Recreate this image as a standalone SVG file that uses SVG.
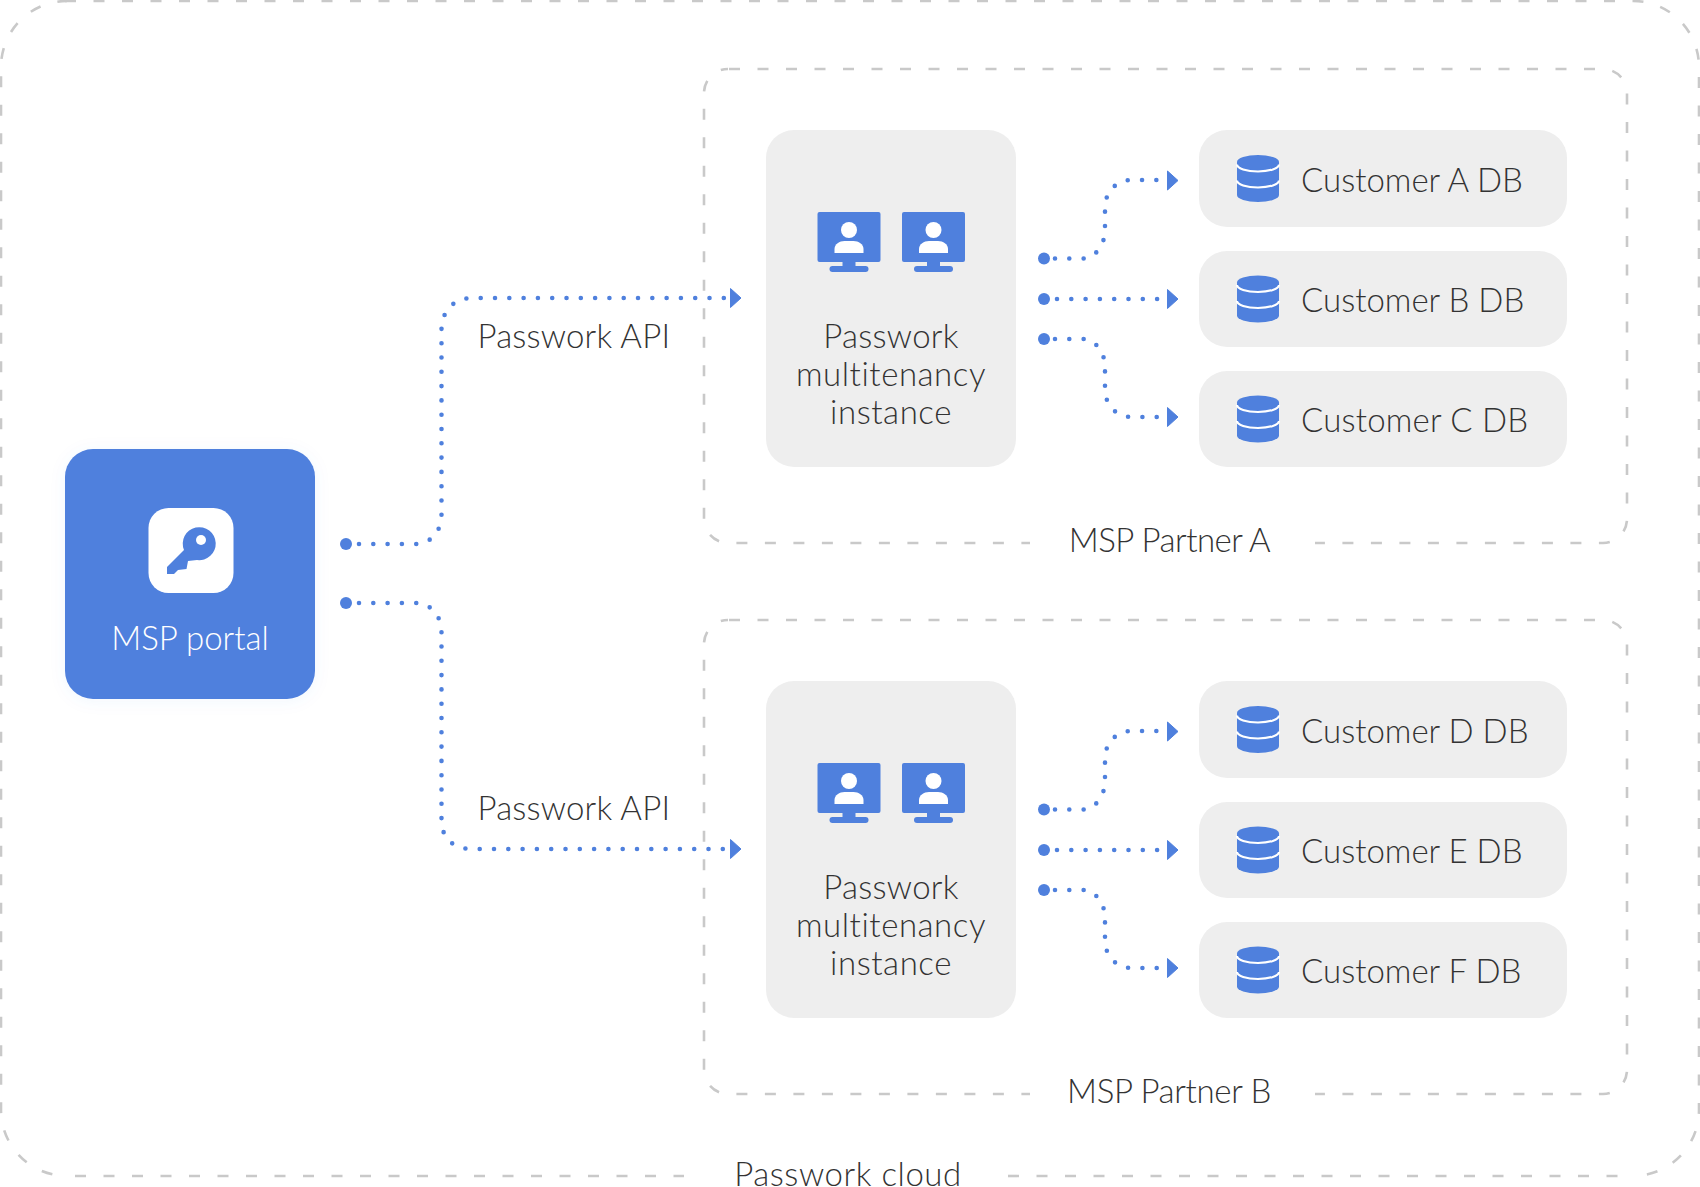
<svg xmlns="http://www.w3.org/2000/svg" xmlns:xlink="http://www.w3.org/1999/xlink" width="1700" height="1187" viewBox="0 0 1700 1187">
<style>
text{font-family:"Lato","Liberation Sans",sans-serif;font-weight:300;font-size:33px;fill:#333333}
.m{text-anchor:middle}
.box{fill:#eeeeee}
.dash{fill:none;stroke:#c9c9c9;stroke-width:2.6;stroke-dasharray:11 17.5}
.dot{fill:none;stroke:#4f80dd;stroke-width:4.6;stroke-linecap:round;stroke-dasharray:0 14.3;stroke-dashoffset:1.3}
.b{fill:#4f80dd}
.arrow{fill:#4f80dd;stroke:#4f80dd;stroke-linejoin:round}
</style>
<defs>
<filter id="sh" x="-20%" y="-20%" width="140%" height="140%"><feDropShadow dx="0" dy="2" stdDeviation="8" flood-color="#4f80dd" flood-opacity="0.06"/></filter>
<g id="monitor">
<rect x="0" y="0" width="63" height="50" rx="2" class="b"/>
<rect x="25" y="50" width="13" height="5" class="b"/>
<rect x="12" y="54" width="39" height="6" rx="3" class="b"/>
<circle cx="31.500" cy="18" r="8" fill="#fff"/>
<path d="M17 41V37C17 32 22 29 27 29H36C41 29 46 32 46 37V41Z" fill="#fff"/>
</g>
<g id="db">
<path d="M0 7A21 7 0 0 1 42 7V40A21 7 0 0 1 0 40Z" class="b"/>
<path d="M0 9.500A21 7 0 0 0 42 9.500M0 25.500A21 7 0 0 0 42 25.500" fill="none" stroke="#fff" stroke-width="2.200"/>
</g>
<g id="inst">
<rect x="766" y="130" width="250" height="337" rx="28" class="box"/>
<use xlink:href="#monitor" x="817.500" y="212"/>
<use xlink:href="#monitor" x="902" y="212"/>
<text class="m" x="891" y="348" letter-spacing="0.27">Passwork</text>
<text class="m" x="891" y="386" letter-spacing="0.55">multitenancy</text>
<text class="m" x="891" y="424" letter-spacing="0.55">instance</text>
</g>
<g id="links">
<path class="dot" style="stroke-dashoffset:3.300" d="M1044 258.500H1082C1096 258.500 1105 244 1105 230V208C1105 192 1116 180 1132 180H1162"/>
<path class="dot" d="M1044 299H1162"/>
<path class="dot" style="stroke-dashoffset:3.300" d="M1044 339H1082C1096 339 1105 353 1105 367V389C1105 405 1116 417 1132 417H1162"/>
<circle cx="1044" cy="258.500" r="6" class="b"/><circle cx="1044" cy="299" r="6" class="b"/><circle cx="1044" cy="339" r="6" class="b"/>
<path d="M1167.500 171L1178 180.500L1167.500 190Z" class="arrow"/>
<path d="M1167.500 289.500L1178 299L1167.500 308.500Z" class="arrow"/>
<path d="M1167.500 407.500L1178 417L1167.500 426.500Z" class="arrow"/>
</g>
</defs>

<g id="cloud">
<path class="dash" d="M65 1H1633A66 66 0 0 1 1699 67V1110A66 66 0 0 1 1633 1176"/>
<path class="dash" d="M1008 1176H1625"/>
<path class="dash" style="stroke-dashoffset:1.300" d="M67 1A66 66 0 0 0 1 67V1110A66 66 0 0 0 67 1176"/>
<path class="dash" d="M75 1176H684"/>
<text class="m" x="848" y="1185.500" letter-spacing="0.55">Passwork cloud</text>
</g>
<g id="partner-a">
<path class="dash" d="M729 69H1603A24 24 0 0 1 1627 93V519A24 24 0 0 1 1603 543H1315"/>
<path class="dash" style="stroke-dashoffset:3.700" d="M728 69A24 24 0 0 0 704 93V519A24 24 0 0 0 728 543H1030"/>
<text class="m" x="1169.500" y="552" letter-spacing="-0.5">MSP Partner A</text>
</g>
<g id="partner-b">
<path class="dash" d="M729 620H1603A24 24 0 0 1 1627 644V1070A24 24 0 0 1 1603 1094H1315"/>
<path class="dash" style="stroke-dashoffset:3.700" d="M728 620A24 24 0 0 0 704 644V1070A24 24 0 0 0 728 1094H1030"/>
<text class="m" x="1169" y="1103" letter-spacing="-0.35">MSP Partner B</text>
</g>

<g id="msp-portal">
<rect x="65" y="449" width="250" height="250" rx="28" class="b" filter="url(#sh)"/>
<rect x="148.500" y="508" width="85" height="85" rx="20" fill="#fff"/>
<path d="M167 567L184 550A16.500 16.500 0 1 1 197 560L188 561L186.500 569L178 570L174 574H167Z" class="b"/>
<circle cx="201" cy="540" r="5" fill="#fff"/>
<text class="m" x="190" y="650" style="fill:#fff">MSP portal</text>
</g>

<g id="instance-a"><use xlink:href="#inst"/></g>
<g id="instance-b"><use xlink:href="#inst" y="551"/></g>

<g id="customer-a"><rect x="1199" y="130" width="368" height="97" rx="28" class="box"/><use xlink:href="#db" x="1237" y="155"/><text x="1301" y="192">Customer A DB</text></g>
<g id="customer-b"><rect x="1199" y="251" width="368" height="96" rx="28" class="box"/><use xlink:href="#db" x="1237" y="275.500"/><text x="1301" y="312">Customer B DB</text></g>
<g id="customer-c"><rect x="1199" y="371" width="368" height="96" rx="28" class="box"/><use xlink:href="#db" x="1237" y="395.500"/><text x="1301" y="432" letter-spacing="0.2">Customer C DB</text></g>
<g id="customer-d"><rect x="1199" y="681" width="368" height="97" rx="28" class="box"/><use xlink:href="#db" x="1237" y="706"/><text x="1301" y="743">Customer D DB</text></g>
<g id="customer-e"><rect x="1199" y="802" width="368" height="96" rx="28" class="box"/><use xlink:href="#db" x="1237" y="826.500"/><text x="1301" y="863">Customer E DB</text></g>
<g id="customer-f"><rect x="1199" y="922" width="368" height="96" rx="28" class="box"/><use xlink:href="#db" x="1237" y="946.500"/><text x="1301" y="983">Customer F DB</text></g>

<g id="connectors">
<path class="dot" d="M346 544H415C432 544 441.500 530 441.500 515V330C441.500 312 453 298 472 298H726"/>
<path class="dot" d="M346 603H415C432 603 441.500 617 441.500 632V820C441.500 838 453 849 472 849H726"/>
<circle cx="346" cy="544" r="6" class="b"/><circle cx="346" cy="603" r="6" class="b"/>
<path d="M730.500 288.500L741 298L730.500 307.500Z" class="arrow"/>
<path d="M730.500 839.500L741 849L730.500 858.500Z" class="arrow"/>
<use xlink:href="#links"/>
<use xlink:href="#links" y="551"/>
</g>
<text id="label-api-1" x="477.500" y="348" letter-spacing="0.18">Passwork API</text>
<text id="label-api-2" x="477.500" y="820" letter-spacing="0.18">Passwork API</text>
</svg>
